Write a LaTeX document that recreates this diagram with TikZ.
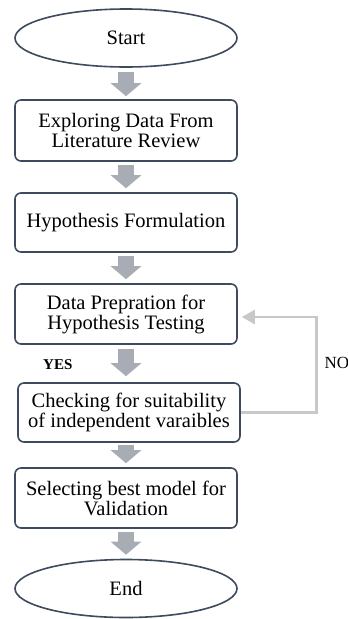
\documentclass[tikz,border=0pt]{standalone}
\usepackage{fontspec}
\setmainfont{Liberation Serif}
\usetikzlibrary{shapes.geometric,arrows.meta}
\definecolor{edge}{RGB}{62,74,94}
\definecolor{blockgray}{RGB}{168,172,180}
\definecolor{loopgray}{RGB}{200,200,200}
\tikzset{
  procbox/.style={draw=edge, line width=1.6pt, rounded corners=6pt, fill=white,
    minimum width=222pt, inner sep=0pt, align=center,
    font=\fontsize{20.5}{20}\selectfont},
  termnode/.style={draw=edge, line width=1.6pt, ellipse, fill=white,
    minimum width=222pt, minimum height=58pt, inner sep=0pt,
    font=\fontsize{20.5}{20}\selectfont},
  blockarrow/.style={draw=blockgray, line width=16pt,
    -{Triangle[width=30pt,length=13pt]}},
  loopline/.style={draw=loopgray, line width=2.5pt,
    -{Triangle[width=14pt,length=13pt]}, shorten >=4pt},
  lbl/.style={inner sep=0pt}
}
\begin{document}
\begin{tikzpicture}[x=1pt,y=-1pt]
\useasboundingbox (0,0) rectangle (348,619);
\node[termnode] (start) at (126,38) {Start};
\node[procbox, minimum height=61pt] (b1) at (126,130.5) {Exploring Data From\\Literature Review};
\node[procbox, minimum height=59pt] (b2) at (126,222.5) {Hypothesis Formulation};
\node[procbox, minimum height=60pt] (b3) at (126,314) {Data Prepration for\\Hypothesis Testing};
\node[procbox, minimum height=59pt] (b4) at (129,412.5) {Checking for suitability\\of independent varaibles};
\node[procbox, minimum height=60pt] (b5) at (126,498) {Selecting best model for\\Validation};
\node[termnode] (end) at (126,588.5) {End};

\draw[blockarrow] ([yshift=-4pt]start.south) -- ([yshift=3pt]b1.north);
\draw[blockarrow] ([yshift=-3pt]b1.south) -- ([yshift=4pt]b2.north);
\draw[blockarrow] ([yshift=-3pt]b2.south) -- ([yshift=4pt]b3.north);
\draw[blockarrow] ([yshift=-4pt]b3.south) -- ([yshift=6pt]b4.north-|b3.south);
\draw[blockarrow] ([yshift=-2pt]b4.south-|b5.north) -- ([yshift=4pt]b5.north);
\draw[blockarrow] ([yshift=-3pt]b5.south) -- ([yshift=4pt]end.north);

\coordinate (c1) at (316.5,412.5);
\draw[loopline] (b4.east) -- (c1) |- ([yshift=-3pt]b3.east);

\node[lbl, font=\fontsize{15}{15}\bfseries\selectfont, anchor=west] (yes) at (43,364.5) {YES};
\node[lbl, font=\fontsize{17}{17}\selectfont, anchor=west] (no) at (324.5,362.5) {NO};
\end{tikzpicture}
\end{document}
